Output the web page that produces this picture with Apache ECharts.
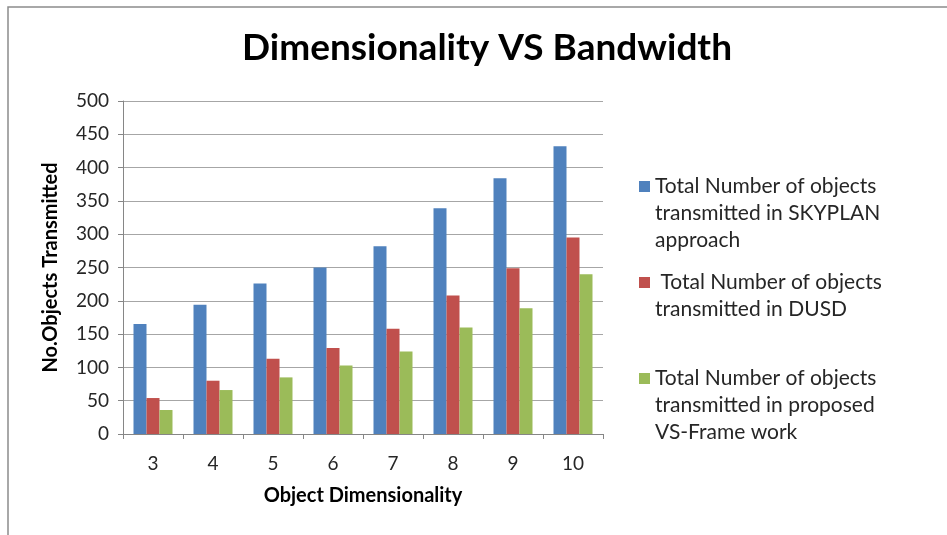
<!DOCTYPE html>
<html>
<head>
<meta charset="utf-8">
<script src="https://cdn.jsdelivr.net/npm/echarts@6/dist/echarts.min.js"></script>
<style>
    html, body { margin: 0; padding: 0; background: #fff; }
    #chart { width: 947px; height: 535px; }
</style>
</head>
<body>
<div id="chart"></div>
<script>
// 数据
const dimensions = ['3', '4', '5', '6', '7', '8', '9', '10'];
const skyplan = [165, 194, 226, 250, 282, 339, 384, 432];
const dusd = [54, 80, 113, 129, 158, 208, 249, 295];
const vsFrame = [36, 66, 85, 103, 124, 160, 189, 240];
const seriesNames = [
    'Total Number of objects transmitted in SKYPLAN approach',
    'Total Number of objects transmitted in DUSD',
    'Total Number of objects transmitted in proposed VS-Frame work'
];
// 图例文字（按原图换行）
const legendLabels = {};
legendLabels[seriesNames[0]] = ['Total Number of objects', 'transmitted in SKYPLAN', 'approach'];
legendLabels[seriesNames[1]] = [' Total Number of objects', 'transmitted in DUSD', ' '];
legendLabels[seriesNames[2]] = ['Total Number of objects', 'transmitted in proposed', 'VS-Frame work'];

const colors = ['#4F81BD', '#C0504D', '#9BBB59'];
const FONT = 'Lato';

const chart = echarts.init(document.getElementById('chart'));

const option = {
    animation: false,
    color: colors,
    textStyle: { fontFamily: FONT },
    title: {
        text: 'Dimensionality VS Bandwidth',
        left: 482,
        textAlign: 'center',
        top: 25,
        textStyle: { fontFamily: FONT, fontSize: 37, fontWeight: 'bold', color: '#000' }
    },
    graphic: [{
        type: 'rect',
        shape: { x: 8, y: 7, width: 960, height: 560 },
        style: { fill: 'none', stroke: '#8c8c8c', lineWidth: 1.5 },
        silent: true
    }],
    legend: {
        orient: 'vertical',
        left: 629,
        top: 171,
        itemGap: 21,
        icon: 'none',
        itemWidth: 0,
        itemHeight: 0,
        data: seriesNames,
        formatter: function(name) {
            const lines = legendLabels[name];
            const idx = seriesNames.indexOf(name);
            return '{m' + idx + '|}{t|' + lines[0] + '}\n{p|}{t|' + lines[1] + '}\n{p|}{t|' + lines[2] + '}';
        },
        textStyle: {
            rich: {
                m0: { width: 11, height: 11, backgroundColor: colors[0] },
                m1: { width: 11, height: 11, backgroundColor: colors[1] },
                m2: { width: 11, height: 11, backgroundColor: colors[2] },
                p: { width: 11 },
                t: { fontFamily: FONT, fontSize: 21, color: '#262626', lineHeight: 27, padding: [0, 0, 0, 5] }
            }
        }
    },
    grid: { left: 123, right: 344, top: 101, bottom: 101, containLabel: false },
    xAxis: {
        type: 'category',
        data: dimensions,
        name: 'Object Dimensionality',
        nameLocation: 'middle',
        nameGap: 52,
        nameTextStyle: { fontFamily: FONT, fontSize: 20, fontWeight: 'bold', color: '#000' },
        axisLine: { lineStyle: { color: '#868686' } },
        axisTick: { show: true, length: 5, lineStyle: { color: '#868686' } },
        axisLabel: { fontFamily: FONT, fontSize: 19, color: '#262626', margin: 20 }
    },
    yAxis: {
        type: 'value',
        min: 0,
        max: 500,
        interval: 50,
        name: 'No.Objects Transmitted',
        nameLocation: 'middle',
        nameGap: 62,
        nameTextStyle: { fontFamily: FONT, fontSize: 20, fontWeight: 'bold', color: '#000' },
        axisLine: { show: true, lineStyle: { color: '#868686' } },
        axisTick: { show: true, length: 5, lineStyle: { color: '#868686' } },
        axisLabel: { fontFamily: FONT, fontSize: 19, color: '#262626', margin: 14 },
        splitLine: { lineStyle: { color: '#a6a6a6', width: 1 } }
    },
    series: [
        { name: seriesNames[0], type: 'bar', data: skyplan, barGap: '0%', barCategoryGap: '35%' },
        { name: seriesNames[1], type: 'bar', data: dusd, barGap: '0%', barCategoryGap: '35%' },
        { name: seriesNames[2], type: 'bar', data: vsFrame, barGap: '0%', barCategoryGap: '35%' }
    ]
};

chart.setOption(option);
</script>
</body>
</html>
